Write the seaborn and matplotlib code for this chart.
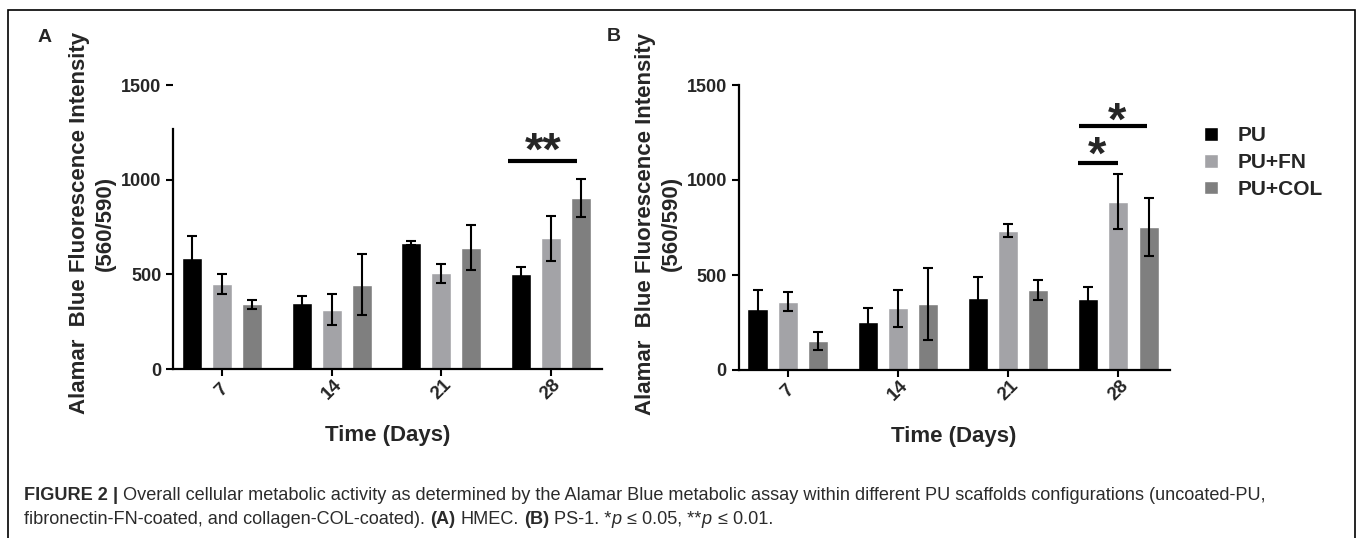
import matplotlib
matplotlib.use('Agg')
import pandas as pd
import matplotlib.pyplot as plt
import seaborn as sns
from matplotlib.patches import Rectangle

days = ['7', '14', '21', '28']
groups = ['PU', 'PU+FN', 'PU+COL']
colors = ['#000000', '#a3a3a7', '#7f7f7f']

# panel A - HMEC
hmec_pu = [585, 347, 667, 502]
hmec_fn = [449, 312, 505, 690]
hmec_col = [343, 444, 641, 903]
hmec_pu_err = [117, 40, 11, 38]
hmec_fn_err = [54, 82, 50, 118]
hmec_col_err = [24, 161, 120, 100]

# panel B - PS-1
ps1_pu = [319, 254, 377, 372]
ps1_fn = [360, 325, 733, 886]
ps1_col = [154, 347, 421, 751]
ps1_pu_err = [102, 71, 114, 66]
ps1_fn_err = [48, 97, 33, 143]
ps1_col_err = [47, 191, 51, 152]

# heights of the significance brackets
sig_a = 1097
sig_b_low, sig_b_high = 1090, 1283

yticks = [0, 500, 1000, 1500]
ylabel = 'Alamar  Blue Fluorescence Intensity\n(560/590)'
xlabel = 'Time (Days)'

sns.set_style('ticks')
plt.rcParams['font.family'] = ['Liberation Sans', 'DejaVu Sans']
plt.rcParams['font.weight'] = 'bold'

W, H = 1358, 538
fig = plt.figure(figsize=(W / 100, H / 100), dpi=100)
ax_a = fig.add_axes([173.4 / W, 1 - 369 / H, (602 - 173.4) / W, 284 / H])
ax_b = fig.add_axes([738.6 / W, 1 - 370 / H, (1169.7 - 738.6) / W, 285 / H])


def make_df(pu, fn, col):
    rows = []
    for g, vals in zip(groups, [pu, fn, col]):
        for d, v in zip(days, vals):
            rows.append({'day': d, 'group': g, 'value': v})
    return pd.DataFrame(rows)


def draw_panel(ax, df, errs, show_legend):
    sns.barplot(data=df, x='day', y='value', hue='group', order=days,
                hue_order=groups, palette=colors, saturation=1,
                errorbar=None, width=0.82, gap=0.333, legend=show_legend, ax=ax)
    for cont, e in zip(ax.containers, errs):
        xs = [p.get_x() + p.get_width() / 2 for p in cont]
        hs = [p.get_height() for p in cont]
        ax.errorbar(xs, hs, yerr=e, fmt='none', ecolor='black',
                    elinewidth=1.5, capsize=3.6, capthick=1.5, zorder=3)
    ax.set_xlim(-0.445, 3.465)
    ax.set_ylim(0, 1500)
    ax.set_yticks(yticks)
    ax.set_yticklabels([str(t) for t in yticks], fontsize=13, fontweight='bold')
    ax.set_xticks(range(len(days)))
    ax.set_xticklabels(days, fontsize=13.5, fontweight='bold', rotation=45,
                       ha='center', va='center')
    ax.tick_params(axis='both', width=1.5, length=5, color='black')
    ax.tick_params(axis='x', pad=10)
    sns.despine(ax=ax)
    for s in ['left', 'bottom']:
        ax.spines[s].set_linewidth(1.6)
        ax.spines[s].set_color('black')
    ax.set_ylabel(ylabel, fontsize=16, fontweight='bold', va='center',
                  linespacing=1.3)
    ax.set_xlabel(xlabel, fontsize=16, fontweight='bold', va='center')
    ax.xaxis.set_label_coords(0.5, (369 - 435) / 284)


def bracket(ax, x0, x1, y, stars, sx, off_px):
    ax.plot([x0, x1], [y, y], color='black', lw=3, solid_capstyle='butt')
    ax.annotate(stars, xy=(sx, y), xytext=(0, off_px * 0.72),
                textcoords='offset points', ha='center', va='bottom',
                fontsize=34, fontweight='bold')


df_a = make_df(hmec_pu, hmec_fn, hmec_col)
draw_panel(ax_a, df_a, [hmec_pu_err, hmec_fn_err, hmec_col_err], False)
ax_a.spines['left'].set_bounds(0, 1268)
ax_a.yaxis.set_label_coords((92 - 173.4) / (602 - 173.4), 0.514)

df_b = make_df(ps1_pu, ps1_fn, ps1_col)
draw_panel(ax_b, df_b, [ps1_pu_err, ps1_fn_err, ps1_col_err], True)
ax_b.yaxis.set_label_coords((658 - 738.6) / (1169.7 - 738.6), 0.514)

# significance brackets for day 28
pu_a, col_a = ax_a.containers[0][3], ax_a.containers[2][3]
bracket(ax_a, pu_a.get_x() - 0.03, col_a.get_x() + col_a.get_width() / 2 - 0.04,
        sig_a, '**', 2.93, -13)
pu_b, fn_b, col_b = (ax_b.containers[i][3] for i in range(3))
bracket(ax_b, pu_b.get_x(), fn_b.get_x() + fn_b.get_width() / 2, sig_b_low, '*',
        2.81, -16)
bracket(ax_b, pu_b.get_x() + 0.01, col_b.get_x() + col_b.get_width() / 2 - 0.01,
        sig_b_high, '*', 2.99, -18)

leg = ax_b.legend(loc='upper left', bbox_to_anchor=(1204 / W, 1 - 126 / H),
                  bbox_transform=fig.transFigure, frameon=False,
                  prop={'weight': 'bold', 'size': 15}, handlelength=0.65,
                  handleheight=0.65, handletextpad=0.95, labelspacing=0.38,
                  borderpad=0, borderaxespad=0)

fig.text(45 / W, 1 - 38 / H, 'A', fontsize=14, fontweight='bold', ha='center', va='center')
fig.text(614 / W, 1 - 37 / H, 'B', fontsize=14, fontweight='bold', ha='center', va='center')

# frame around the whole figure
fig.patches.append(Rectangle((8 / W, -0.01), (1355 - 8) / W, 1 - 10 / H + 0.01,
                             transform=fig.transFigure, fill=False, lw=1.2,
                             ec='black'))

# caption with mixed styles
line1 = [('FIGURE 2', 'bold', False), ('|', 'bold', True),
         ('Overall cellular metabolic activity as determined by the Alamar Blue '
          'metabolic assay within different PU scaffolds configurations '
          '(uncoated-PU,', 'normal', True)]
line2 = [('fibronectin-FN-coated, and collagen-COL-coated).', 'normal', False),
         ('(A)', 'bold', True), ('HMEC.', 'normal', True), ('(B)', 'bold', True),
         ('PS-1. *', 'normal', True), ('p', 'italic', False),
         ('\u2264 0.05, **', 'normal', True), ('p', 'italic', False),
         ('\u2264 0.01.', 'normal', True)]

renderer = fig.canvas.get_renderer()
cap_size = 13.1
space_px = 0.278 * cap_size * 100 / 72


def rich_line(pieces, x_px, y_px):
    for txt, style, sp in pieces:
        if sp:
            x_px += space_px
        kw = {'fontweight': 'bold' if style == 'bold' else 'normal',
              'fontstyle': 'italic' if style == 'italic' else 'normal'}
        t = fig.text(x_px / W, 1 - y_px / H, txt, fontsize=cap_size,
                     color='#2b2b2b', va='center', ha='left', **kw)
        bb = t.get_window_extent(renderer)
        x_px += bb.width + (1 if style == 'italic' else 0)


rich_line(line1, 24, 496)
rich_line(line2, 24, 519)

fig.savefig('out.png', dpi=100)
